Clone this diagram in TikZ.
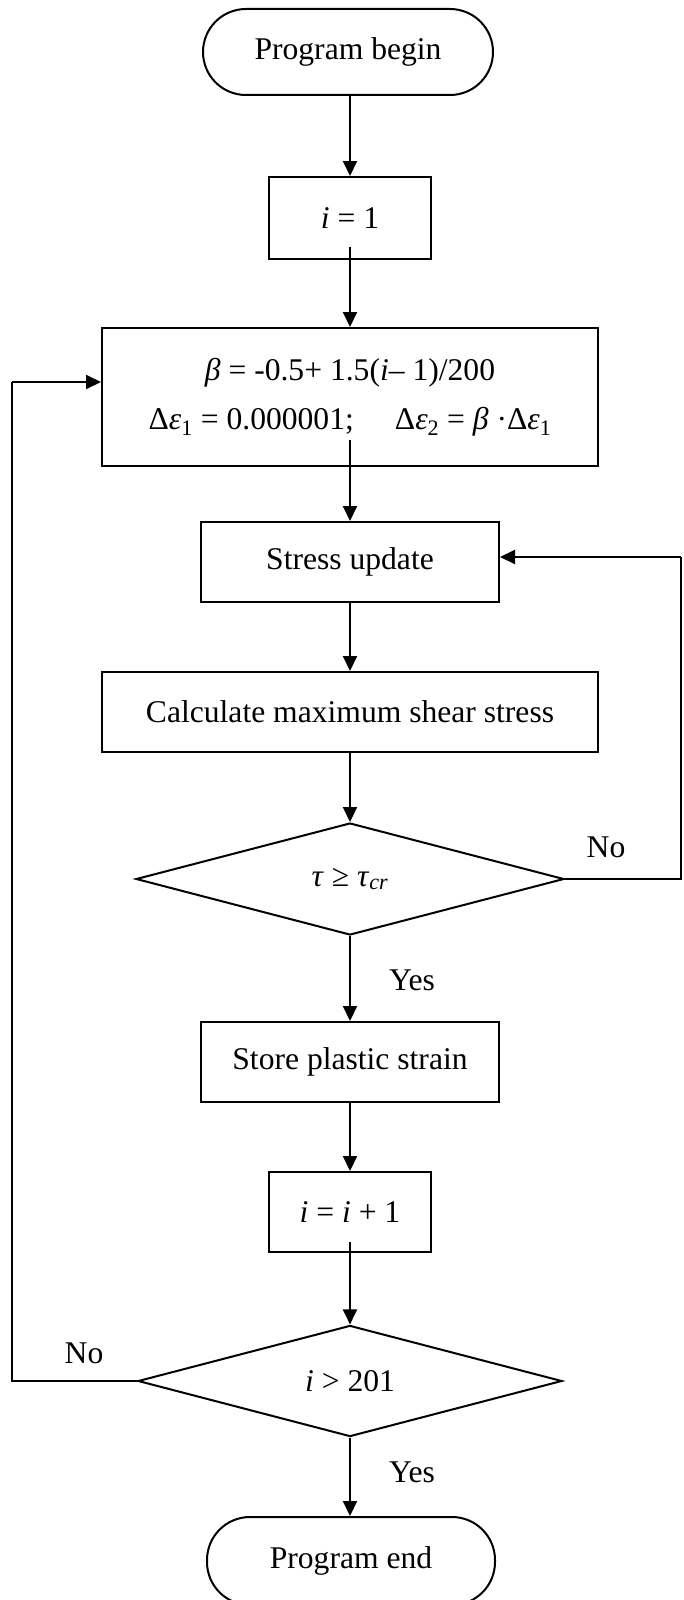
\documentclass[tikz,border=0pt]{standalone}
\usepackage{fontspec}
\setmainfont{Liberation Serif}
\usetikzlibrary{shapes.geometric,arrows.meta}
\begin{document}
\begin{tikzpicture}[x=1pt,y=-1pt,
  every node/.style={font=\fontsize{31.6}{50}\selectfont, inner sep=0pt},
  proc/.style={draw, line width=2pt, rectangle, minimum height=80pt},
  term/.style={draw, line width=2pt, rectangle, rounded corners=43pt, minimum height=86pt},
  decis/.style={draw, line width=2pt, diamond, minimum width=428pt, minimum height=112pt},
  conn/.style={line width=2pt, -{Triangle[length=15pt,width=14pt]}},
  plain/.style={line width=2pt},
  lbl/.style={}
]
\useasboundingbox (0,0) rectangle (683,1600);
\node[term, minimum width=290pt] (begin) at (348,52) {Program begin};
\node[proc, minimum width=162pt, minimum height=82pt] (init) at (350,218) {\textit{i} = 1};
\node[proc, minimum width=496pt, minimum height=138pt, align=center] (formula) at (350,397)
  {\textit{β} = -0.5+ 1.5(\textit{i}– 1)/200\\[-1pt]
   Δ\textit{ε}\textsubscript{1} = 0.000001;\hspace{1.3em}Δ\textit{ε}\textsubscript{2} = \textit{β} ·Δ\textit{ε}\textsubscript{1}};
\node[proc, minimum width=298pt] (stress) at (350,562) {Stress update};
\node[proc, minimum width=496pt] (calc) at (350,712) {Calculate maximum shear stress};
\node[decis] (tau) at (350,879) {\textit{τ} ≥ \textit{τ}\textsubscript{\textit{cr}}};
\node[proc, minimum width=298pt] (store) at (350,1062) {Store plastic strain};
\node[proc, minimum width=162pt] (incr) at (350,1212) {\textit{i} = \textit{i} + 1};
\node[decis, minimum height=110pt, minimum width=424pt] (check) at (350,1381) {\textit{i} > 201};
\node[term, minimum width=288pt, minimum height=88pt] (end) at (351,1561) {Program end};

\node[lbl] (no1) at (606,847) {No};
\node[lbl] (yes1) at (412,980) {Yes};
\node[lbl] (no2) at (84,1353) {No};
\node[lbl] (yes2) at (412,1472) {Yes};

\coordinate (f0) at (350,440);
\coordinate (i0) at (350,247);
\coordinate (k0) at (350,1242);
\coordinate (rtop) at (681,557);
\coordinate (rbot) at (681,879);
\coordinate (ltop) at (12,382);
\coordinate (lbot) at (12,1381);

\draw[conn] (begin.south -| init.north) -- (init.north);
\draw[conn] (i0) -- (formula.north);
\draw[conn] (f0) -- (stress.north);
\draw[conn] (stress.south) -- (calc.north);
\draw[conn] (calc.south) -- (tau.north);
\draw[conn] (tau.south) -- (store.north);
\draw[conn] (store.south) -- (incr.north);
\draw[conn] (k0) -- (check.north);
\draw[conn] (check.south) -- (end.north -| check.south);
\draw[plain] (tau.east) -- (rbot) -- (rtop);
\draw[conn] (rtop) -- (rtop -| stress.east);
\draw[plain] (check.west) -- (lbot) -- (ltop);
\draw[conn] (ltop) -- (ltop -| formula.west);
\end{tikzpicture}
\end{document}
